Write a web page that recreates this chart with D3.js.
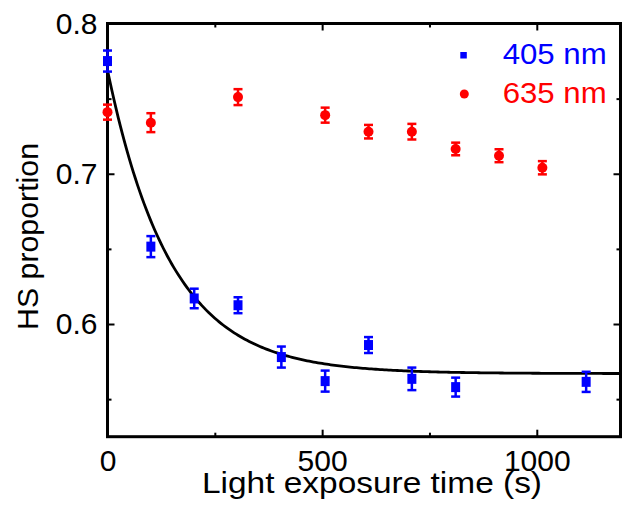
<!DOCTYPE html>
<html>
<head>
<meta charset="utf-8">
<script src="https://cdn.jsdelivr.net/npm/d3@7"></script>
<style>
  html, body { margin: 0; padding: 0; background: #fff; }
  svg text { font-family: "Liberation Sans", Arial, sans-serif; }
</style>
</head>
<body>
<svg id="chart" width="622" height="517"></svg>
<script>
// data
const TIME_405 = [0, 101, 202, 304, 405, 507, 608, 709, 811, 1115]
const HS_405 = [0.775, 0.6515, 0.617, 0.6125, 0.578, 0.562, 0.586, 0.5635, 0.558, 0.5615]
const ERR_405 = [0.007, 0.007, 0.0065, 0.0053, 0.007, 0.007, 0.0053, 0.0075, 0.0063, 0.0067]

const TIME_635 = [0, 101, 304, 507, 608, 709, 811, 912, 1013]
const HS_635 = [0.741, 0.734, 0.751, 0.739, 0.728, 0.728, 0.7165, 0.712, 0.704]
const ERR_635 = [0.005, 0.0063, 0.0053, 0.005, 0.0045, 0.0052, 0.0042, 0.0043, 0.0044]

// exponential decay fit of the 405 nm points: y0 + A * exp(-t / tau)
const FIT_Y0 = 0.567
const FIT_A = 0.202
const FIT_TAU = 147

const X_TICKS = [0, 500, 1000]
const X_MINOR = [250, 750]
const Y_TICKS = [0.6, 0.7, 0.8]
const Y_MINOR = [0.55, 0.65, 0.75]

const LEGEND = ['405 nm', '635 nm']
const COLORS = ['#0000ff', '#ff0000']

const BOX = {left: 107.5, right: 620.5, top: 23.5, bottom: 436.7}
const FONT_SIZE = 29
const TICK_FONT = 30
const MAJOR = 7
const MINOR = 4

const svg = d3.select('#chart')

const x = d3.scaleLinear().domain([0, 1195]).range([BOX.left, BOX.right])
const y = d3.scaleLinear().domain([0.525, 0.8]).range([BOX.bottom, BOX.top])

function styleAxis (g) {
  g.select('.domain').remove()
  g.selectAll('.tick line').attr('stroke', '#000').attr('stroke-width', 2)
  g.selectAll('.tick text')
    .attr('fill', '#000')
    .attr('font-size', TICK_FONT)
    .attr('font-family', '"Liberation Sans", Arial, sans-serif')
}

// ticks, all pointing inward
svg.append('g').attr('transform', `translate(0,${BOX.bottom})`)
  .call(d3.axisBottom(x).tickValues(X_TICKS).tickFormat(d3.format('d')).tickSize(-MAJOR).tickPadding(13.5))
  .call(styleAxis)
svg.append('g').attr('transform', `translate(0,${BOX.bottom})`)
  .call(d3.axisBottom(x).tickValues(X_MINOR).tickFormat('').tickSize(-MINOR))
  .call(styleAxis)
svg.append('g').attr('transform', `translate(0,${BOX.top})`)
  .call(d3.axisTop(x).tickValues(X_TICKS).tickFormat('').tickSize(-MAJOR))
  .call(styleAxis)
svg.append('g').attr('transform', `translate(0,${BOX.top})`)
  .call(d3.axisTop(x).tickValues(X_MINOR).tickFormat('').tickSize(-MINOR))
  .call(styleAxis)

svg.append('g').attr('transform', `translate(${BOX.left},0)`)
  .call(d3.axisLeft(y).tickValues(Y_TICKS).tickFormat(d3.format('.1f')).tickSize(-MAJOR).tickPadding(10))
  .call(styleAxis)
svg.append('g').attr('transform', `translate(${BOX.left},0)`)
  .call(d3.axisLeft(y).tickValues(Y_MINOR).tickFormat('').tickSize(-MINOR))
  .call(styleAxis)
svg.append('g').attr('transform', `translate(${BOX.right},0)`)
  .call(d3.axisRight(y).tickValues(Y_TICKS).tickFormat('').tickSize(-MAJOR))
  .call(styleAxis)
svg.append('g').attr('transform', `translate(${BOX.right},0)`)
  .call(d3.axisRight(y).tickValues(Y_MINOR).tickFormat('').tickSize(-MINOR))
  .call(styleAxis)

// frame
svg.append('rect')
  .attr('x', BOX.left).attr('y', BOX.top)
  .attr('width', BOX.right - BOX.left).attr('height', BOX.bottom - BOX.top)
  .attr('fill', 'none').attr('stroke', '#000').attr('stroke-width', 3)

// fit curve
const fitT = d3.range(0, 1195, 5).concat([1195])
svg.append('path')
  .datum(fitT)
  .attr('fill', 'none').attr('stroke', '#000').attr('stroke-width', 2.8)
  .attr('d', d3.line().x(t => x(t)).y(t => y(FIT_Y0 + FIT_A * Math.exp(-t / FIT_TAU))))

function errorBars (times, vals, errs, color) {
  const g = svg.append('g')
  const pts = times.map((t, i) => ({t, v: vals[i], e: errs[i]}))
  const sel = g.selectAll('g').data(pts).enter().append('g')
  sel.append('line')
    .attr('x1', d => x(d.t)).attr('x2', d => x(d.t))
    .attr('y1', d => y(d.v - d.e)).attr('y2', d => y(d.v + d.e))
    .attr('stroke', color).attr('stroke-width', 2.5)
  sel.selectAll('line.cap')
    .data(d => [d.v - d.e, d.v + d.e].map(v => ({t: d.t, v})))
    .enter().append('line').classed('cap', true)
    .attr('x1', d => x(d.t) - 4.5).attr('x2', d => x(d.t) + 4.5)
    .attr('y1', d => y(d.v)).attr('y2', d => y(d.v))
    .attr('stroke', color).attr('stroke-width', 2.5)
  return sel
}

// 405 nm squares
errorBars(TIME_405, HS_405, ERR_405, COLORS[0])
  .append('rect')
  .attr('x', d => x(d.t) - 4.5).attr('y', d => y(d.v) - 5)
  .attr('width', 9).attr('height', 10)
  .attr('fill', COLORS[0])

// 635 nm circles
errorBars(TIME_635, HS_635, ERR_635, COLORS[1])
  .append('circle')
  .attr('cx', d => x(d.t)).attr('cy', d => y(d.v))
  .attr('r', 5)
  .attr('fill', COLORS[1])

// legend
const legend = svg.append('g')
legend.append('rect').attr('x', 460.3).attr('y', 52).attr('width', 6.5).attr('height', 6.5).attr('fill', COLORS[0])
legend.append('circle').attr('cx', 464.3).attr('cy', 94).attr('r', 4.5).attr('fill', COLORS[1])
legend.selectAll('text').data(LEGEND).enter().append('text')
  .attr('x', 502.7).attr('y', (d, i) => [64.3, 103.3][i])
  .attr('font-size', FONT_SIZE).attr('fill', (d, i) => COLORS[i])
  .attr('textLength', 104).attr('lengthAdjust', 'spacingAndGlyphs')
  .text(d => d)

// axis titles
svg.append('text')
  .attr('x', 202).attr('y', 493)
  .attr('font-size', FONT_SIZE)
  .attr('textLength', 340).attr('lengthAdjust', 'spacingAndGlyphs')
  .text('Light exposure time (s)')
svg.append('text')
  .attr('transform', 'translate(38,330) rotate(-90)')
  .attr('font-size', FONT_SIZE)
  .attr('textLength', 187).attr('lengthAdjust', 'spacingAndGlyphs')
  .text('HS proportion')
</script>
</body>
</html>
